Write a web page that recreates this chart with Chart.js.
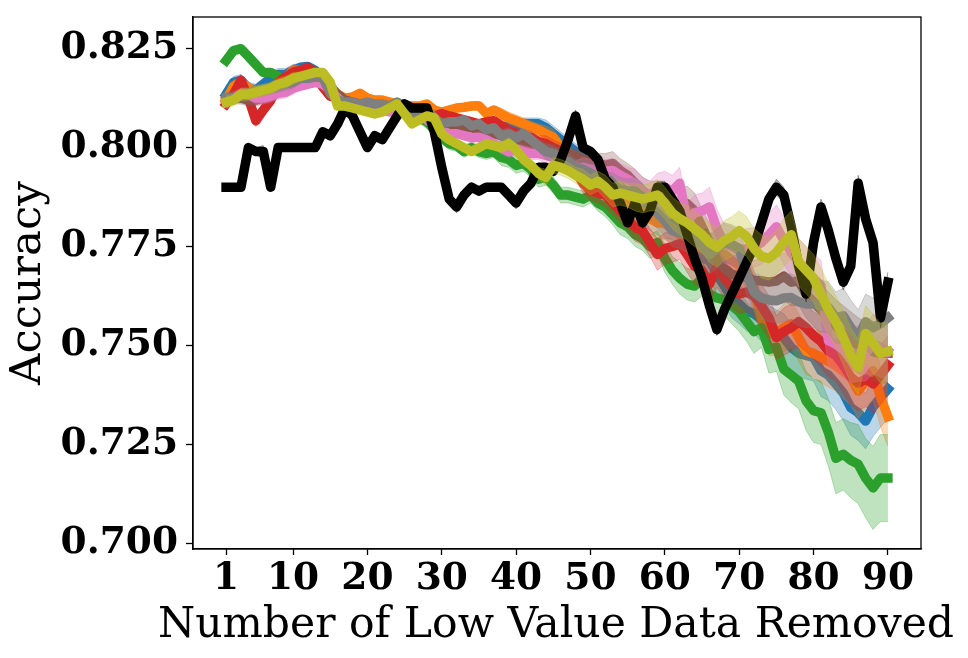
<!DOCTYPE html>
<html>
<head>
<meta charset="utf-8">
<script src="https://cdn.jsdelivr.net/npm/chart.js@4.4.0/dist/chart.umd.min.js"></script>
<style>
  html, body { margin: 0; padding: 0; background: #fff; }
</style>
</head>
<body>
<canvas id="accuracyChart" width="968" height="658"></canvas>
<script>
// number of low value points removed (1..90)
const removed = Array.from({ length: 90 }, (_, i) => i + 1);
const xTicks = [1, 10, 20, 30, 40, 50, 60, 70, 80, 90];
const yTicks = [0.700, 0.725, 0.750, 0.775, 0.800, 0.825];
const xTitle = "Number of Low Value Data Removed";
const yTitle = "Accuracy";

const blueAcc = [.8135,.8165,.817,.815,.8145,.816,.8175,.8185,.8185,.8195,
  .8203,.8205,.8195,.817,.8145,.813,.812,.8115,.8115,.811,
  .811,.8105,.8105,.8095,.809,.8085,.8085,.8075,.807,.807,
  .8065,.806,.8065,.806,.8055,.806,.8055,.805,.8055,.8055,
  .806,.806,.806,.805,.8035,.802,.8005,.799,.7976,.7965,
  .795,.793,.791,.789,.787,.785,.784,.7825,.782,.781,
  .7808,.779,.7765,.774,.7722,.7714,.768,.765,.762,.7605,
  .7587,.758,.7565,.7545,.7535,.752,.7495,.748,.7475,.747,
  .7436,.7425,.7403,.738,.7343,.733,.7309,.7345,.7368,.739];

const orangeAcc = [.812,.8155,.8165,.815,.814,.8135,.8145,.816,.8175,.8195,
  .8195,.819,.818,.8165,.8145,.8135,.8125,.8128,.8137,.8125,
  .812,.812,.8115,.811,.8105,.8105,.8105,.811,.8095,.809,
  .8095,.810,.8102,.8105,.8106,.8086,.8095,.8085,.8075,.8068,
  .806,.8052,.8045,.8035,.8026,.800,.798,.797,.7955,.794,
  .793,.7915,.790,.789,.787,.785,.7835,.782,.781,.7808,
  .7795,.778,.7765,.775,.7745,.7735,.773,.773,.7715,.770,
  .769,.764,.757,.753,.753,.7545,.7555,.752,.7486,.748,
  .747,.746,.745,.7435,.742,.7385,.741,.7436,.737,.732];

const greenAcc = [.822,.8245,.825,.823,.821,.819,.819,.818,.8155,.817,
  .8175,.8175,.817,.816,.814,.812,.811,.811,.811,.8105,
  .810,.8095,.8095,.809,.8085,.808,.8075,.8065,.8045,.8025,
  .801,.8005,.799,.800,.799,.7985,.799,.7975,.797,.7955,
  .796,.7945,.792,.7925,.7905,.788,.788,.7875,.787,.788,
  .786,.785,.783,.781,.780,.778,.777,.775,.776,.772,
  .769,.767,.7655,.765,.767,.763,.762,.7615,.760,.7585,
  .756,.7535,.7545,.749,.7495,.744,.7425,.741,.736,.7335,
  .733,.728,.7215,.7225,.721,.720,.7165,.714,.7165,.7165];

const redAcc = [.811,.8135,.817,.8125,.8068,.8095,.8119,.8165,.8178,.819,
  .8195,.8203,.819,.8153,.813,.8125,.8115,.811,.8105,.811,
  .8105,.810,.8095,.8095,.809,.808,.8075,.8085,.808,.8086,
  .808,.8075,.807,.8065,.806,.8065,.8068,.8055,.8043,.8035,
  .803,.8026,.8015,.801,.800,.799,.797,.794,.791,.7891,
  .7885,.788,.786,.784,.782,.7798,.779,.776,.773,.7745,
  .775,.7757,.773,.770,.769,.7655,.7697,.767,.7646,.763,
  .7635,.7625,.760,.757,.752,.7535,.7545,.756,.7545,.7525,
  .751,.7486,.7475,.745,.742,.7405,.7415,.7403,.7425,.745];

const brownAcc = [.812,.8125,.8125,.812,.812,.8125,.813,.814,.815,.8155,
  .8165,.817,.8175,.817,.8155,.8135,.812,.8115,.811,.8105,
  .810,.8095,.810,.8095,.809,.8085,.808,.8075,.807,.806,
  .806,.8055,.805,.805,.8045,.804,.8035,.803,.8025,.802,
  .8015,.8005,.800,.7995,.799,.7985,.7985,.798,.797,.7965,
  .796,.7955,.796,.7942,.793,.791,.789,.788,.7875,.787,
  .786,.7855,.7858,.784,.780,.776,.7722,.7695,.768,.7675,
  .7672,.7665,.7663,.766,.7663,.7675,.766,.7663,.763,.761,
  .759,.757,.755,.753,.7515,.750,.749,.7485,.748,.748];

const pinkAcc = [.8115,.8125,.8135,.8135,.8125,.8125,.813,.8137,.814,.815,
  .8155,.816,.8165,.816,.8145,.8125,.811,.8105,.8105,.810,
  .8095,.8095,.809,.8095,.8095,.810,.8085,.807,.8055,.804,
  .8035,.8035,.803,.8025,.8026,.802,.801,.800,.799,.7995,
  .799,.7985,.7985,.798,.7975,.7967,.7955,.7946,.795,.7945,
  .7946,.794,.7942,.793,.792,.791,.789,.788,.7895,.790,
  .789,.791,.7815,.7835,.784,.785,.7795,.7757,.775,.774,
  .7745,.7748,.776,.778,.780,.7765,.7735,.771,.769,.767,
  .765,.7512,.7504,.749,.7475,.748,.748,.7504,.7495,.7485];

const grayAcc = [.8125,.8125,.813,.8135,.8145,.8145,.815,.8155,.816,.8165,
  .8175,.8175,.8178,.8178,.8137,.812,.8115,.8115,.811,.8115,
  .811,.811,.8105,.8115,.8105,.8095,.808,.8095,.8075,.806,
  .8065,.8065,.807,.8055,.806,.8045,.805,.803,.8035,.8025,
  .8035,.802,.8005,.799,.7985,.797,.7965,.795,.7945,.7935,
  .7925,.791,.7905,.7895,.789,.789,.7875,.785,.7835,.7815,
  .779,.7785,.778,.7765,.775,.773,.7745,.776,.7755,.7745,
  .768,.7635,.762,.7615,.7613,.762,.7621,.761,.7605,.7605,
  .760,.7596,.757,.7575,.7545,.752,.756,.7545,.7555,.757];

const blackAcc = [.790,.790,.790,.800,.799,.799,.790,.800,.800,.800,
  .800,.800,.800,.804,.803,.806,.810,.808,.804,.800,
  .803,.802,.805,.808,.811,.810,.810,.810,.804,.795,
  .787,.785,.788,.790,.789,.790,.790,.790,.788,.786,
  .789,.791,.795,.795,.794,.797,.802,.808,.800,.799,
  .797,.792,.790,.786,.781,.786,.781,.784,.790,.790,
  .787,.784,.778,.772,.767,.760,.754,.759,.763,.767,
  .771,.775,.781,.787,.790,.788,.780,.770,.763,.776,
  .785,.779,.772,.766,.770,.791,.782,.776,.757,.766];

const oliveAcc = [.8115,.812,.8135,.8135,.814,.8145,.815,.816,.8165,.8175,
  .818,.8185,.819,.819,.8165,.8105,.8105,.810,.8095,.809,
  .8085,.809,.810,.811,.8085,.806,.807,.808,.8075,.8035,
  .802,.801,.800,.799,.800,.801,.8005,.800,.801,.7995,
  .797,.7955,.7935,.7925,.7955,.795,.7942,.793,.792,.7905,
  .7915,.790,.788,.7885,.788,.7875,.787,.7875,.788,.786,
  .7835,.782,.781,.7795,.778,.776,.7748,.7765,.7775,.779,
  .7775,.7745,.7725,.772,.7735,.776,.778,.771,.769,.767,
  .763,.759,.756,.752,.7475,.7445,.753,.7505,.748,.7485];

// half widths of the shaded bands, in thousandths
const bandCluster = [1.5,1.5,1.5,1.5,1.5,1.5,1.5,1.5,1.5,1.5,
  1,1,1,1,1,1,1,1,1,1,
  1,1,1,1,1,1,1,1,1,1,
  1,1,1,1,1,1,1,1.5,1.5,1.5,
  1.5,1.5,1.5,2,2,2,2,2,2.5,2.5,
  2.5,3,3,3,3,3.5,3.5,3.5,4,4,
  4,4,4.5,4.5,4.5,5,5,5,5,5,
  5,5,5.5,5.5,5.5,6,6,6,6,6,
  6.5,6.5,6.5,7,7,7,7,7.5,7.5,7.5];

const bandGreen = [1,1,1,1,1,1,1,1,1,1,
  1,1,1,1,1,1,1,1,1,1,
  1,1,1,1,1,1.5,1.5,1.5,1.5,1.5,
  1.5,1.5,1.5,1.5,1.5,1.5,1.5,2,2,2,
  2,2,2,2,2,2,2,2,2,2,
  2,2.5,2.5,3,3,3,3,3,3,3.5,
  3.5,4,4,4,4.5,4.5,5,4,4.5,5,
  5,5.5,5,6,6,6.5,7,7,7.5,8,
  8,8.5,9,9,9.5,10,10,10.5,11,11];

const bandBlack = [0.5,0.5,0.5,1,1,1.5,1,0.5,0.5,0.5,
  0.5,0.5,0.5,1,1,1,1,1,1,1,
  1,1,1,1,1,1,1,1,1,1,
  1.5,1.5,1,1,1,1,1,1,1.5,1.5,
  1,1,1,1,1,1,1,1.5,1,1,
  1,1,1,1,1,1,1.5,1.5,1.5,1.5,
  1.5,1.5,1.5,1.5,1.5,1.5,1.5,1.5,1.5,1.5,
  1.5,1.5,1.5,1.5,2,2,2,2,2,2,
  2,2,2,2,2,2,2,2,2.5,2.5];

const series = [
  { color: "31,119,180", acc: blueAcc, band: bandCluster },
  { color: "255,127,14", acc: orangeAcc, band: bandCluster },
  { color: "44,160,44", acc: greenAcc, band: bandGreen },
  { color: "214,39,40", acc: redAcc, band: bandCluster },
  { color: "140,86,75", acc: brownAcc, band: bandCluster },
  { color: "227,119,194", acc: pinkAcc, band: bandCluster },
  { color: "127,127,127", acc: grayAcc, band: bandCluster },
  { color: "0,0,0", acc: blackAcc, band: bandBlack },
  { color: "188,189,34", acc: oliveAcc, band: bandCluster },
];

function pts(arr) {
  return arr.map((v, i) => ({ x: removed[i], y: v }));
}

const datasets = [];
series.forEach((s, k) => {
  const lower = s.acc.map((v, i) => v - s.band[i] / 1000);
  const upper = s.acc.map((v, i) => v + s.band[i] / 1000);
  const base = -3 * k;
  datasets.push({
    data: pts(lower),
    borderColor: `rgba(${s.color},0.3)`,
    borderWidth: 1,
    pointRadius: 0,
    fill: false,
    order: base,
  });
  datasets.push({
    data: pts(upper),
    borderColor: `rgba(${s.color},0.3)`,
    backgroundColor: `rgba(${s.color},0.3)`,
    borderWidth: 1,
    pointRadius: 0,
    fill: "-1",
    order: base - 1,
  });
  datasets.push({
    data: pts(s.acc),
    borderColor: `rgb(${s.color})`,
    borderWidth: 9.5,
    borderJoinStyle: "round",
    borderCapStyle: "square",
    pointRadius: 0,
    fill: false,
    order: base - 2,
  });
});

// spines on all four sides, plus the x title (wider than the axis)
const frame = {
  id: "frame",
  afterDraw(chart) {
    const { ctx, chartArea: a } = chart;
    ctx.save();
    ctx.strokeStyle = "#000";
    ctx.lineWidth = 1.3;
    ctx.strokeRect(a.left, a.top, a.right - a.left, a.bottom - a.top);
    ctx.fillStyle = "#000";
    ctx.font = "42.5px 'DejaVu Serif'";
    ctx.textAlign = "center";
    ctx.textBaseline = "alphabetic";
    ctx.fillText(xTitle, (a.left + a.right) / 2 - 1, 637);
    ctx.restore();
  },
};

const tickFont = { family: "DejaVu Serif", size: 37.5, weight: "bold" };
const titleFont = { family: "DejaVu Serif", size: 43.5 };

new Chart(document.getElementById("accuracyChart"), {
  type: "line",
  data: { datasets },
  plugins: [frame],
  options: {
    responsive: false,
    devicePixelRatio: 1,
    animation: false,
    layout: { padding: { top: 17, right: 47, left: 0, bottom: 0 } },
    plugins: { legend: { display: false }, tooltip: { enabled: false } },
    elements: { line: { tension: 0 } },
    scales: {
      x: {
        type: "linear",
        min: -3.45,
        max: 94.45,
        afterBuildTicks: (axis) => {
          axis.ticks = xTicks.map((v) => ({ value: v }));
        },
        afterFit: (scale) => {
          scale.height = 109;
          scale.paddingLeft = 0;
          scale.paddingRight = 0;
        },
        ticks: {
          font: tickFont,
          color: "#000",
          padding: 2,
          maxRotation: 0,
          autoSkip: false,
          callback: (v) => v,
        },
        grid: {
          drawOnChartArea: false,
          tickLength: 6,
          tickColor: "#000",
          tickWidth: 1.3,
        },
        border: { color: "#000", width: 1.3 },
      },
      y: {
        min: 0.69856,
        max: 0.833,
        afterBuildTicks: (axis) => {
          axis.ticks = yTicks.map((v) => ({ value: v }));
        },
        afterFit: (scale) => {
          scale.width = 193;
          scale.paddingTop = 0;
          scale.paddingBottom = 0;
        },
        ticks: {
          font: tickFont,
          color: "#000",
          padding: 8,
          callback: (v) => v.toFixed(3),
        },
        grid: {
          drawOnChartArea: false,
          tickLength: 7,
          tickColor: "#000",
          tickWidth: 1.3,
        },
        border: { color: "#000", width: 1.3 },
        title: {
          display: true,
          text: yTitle,
          font: titleFont,
          color: "#000",
          padding: { top: 3, bottom: 0 },
        },
      },
    },
  },
});
</script>
</body>
</html>
